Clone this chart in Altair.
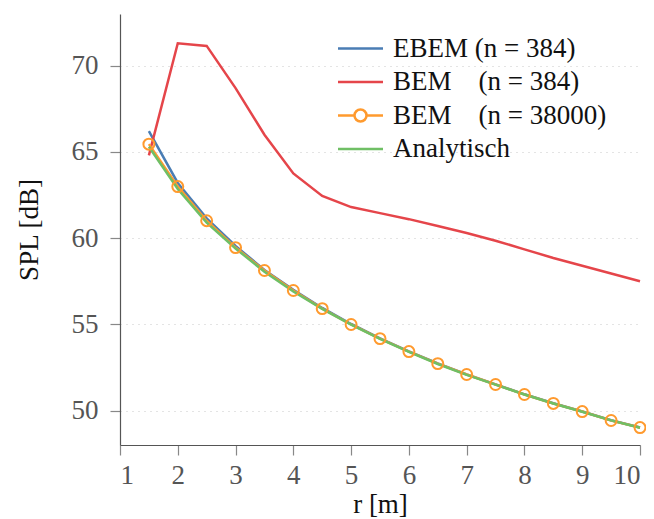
import altair as alt
import pandas as pd

r = [1.5, 2, 2.5, 3, 3.5, 4, 4.5, 5, 5.5, 6, 6.5, 7, 7.5, 8, 8.5, 9, 9.5, 10]
ebem = [66.2, 63.2, 61.15, 59.55, 58.15, 57.0, 55.95, 55.02, 54.18, 53.43, 52.73, 52.1, 51.52, 50.94, 50.42, 49.94, 49.44, 49.02]
bem384 = [64.8, 71.3, 71.15, 68.7, 66.0, 63.75, 62.45, 61.8, 61.45, 61.1, 60.7, 60.3, 59.85, 59.35, 58.85, 58.4, 57.95, 57.5]
bem38000 = [65.45, 62.99, 61.01, 59.45, 58.12, 56.96, 55.91, 54.99, 54.17, 53.42, 52.72, 52.09, 51.51, 50.93, 50.41, 49.94, 49.42, 49.01]
analytic = [65.3, 62.85, 60.9, 59.4, 58.05, 56.9, 55.9, 54.98, 54.15, 53.4, 52.7, 52.07, 51.5, 50.93, 50.41, 49.93, 49.43, 49.0]

NB = "\u00a0"
names = ["EBEM" + NB + "(n = 384)", "BEM" + NB * 4 + "(n = 384)", "BEM" + NB * 4 + "(n = 38000)", "Analytisch"]
colors = ["#4a7db4", "#e5454a", "#ff9a2e", "#6fbf65"]
line_sym = "M-1.5,0H1.5"
circ_sym = "M-1.5,0H-0.4M0.4,0H1.5M0.4,0A0.4,0.4,0,1,1,-0.4,0A0.4,0.4,0,1,1,0.4,0"
shapes = [line_sym, line_sym, circ_sym, line_sym]

rows = []
for name, vals in zip(names, [ebem, bem384, bem38000, analytic]):
    for x, y in zip(r, vals):
        rows.append({"r": x, "spl": y, "series": name})
df = pd.DataFrame(rows)

FONT = "Liberation Serif"

xenc = alt.X("r:Q", scale=alt.Scale(domain=[1, 10], nice=False, zero=False),
             axis=alt.Axis(title="r [m]", values=list(range(1, 11)), grid=False, format="d",
                           labelPadding=7, titlePadding=3))
yenc = alt.Y("spl:Q", scale=alt.Scale(domain=[48, 73], nice=False, zero=False),
             axis=alt.Axis(title="SPL [dB]", values=[50, 55, 60, 65, 70], grid=True,
                           gridDash=[1, 5], gridColor="#c8c8c8", labelPadding=12, titlePadding=28))
cscale = alt.Scale(domain=names, range=colors)
sscale = alt.Scale(domain=names, range=shapes)

def line_layer(name):
    return alt.Chart(df).transform_filter(alt.datum.series == name).mark_line(strokeWidth=2.5).encode(
        x=xenc, y=yenc, color=alt.Color("series:N", scale=cscale))

layers = [line_layer(names[0]), line_layer(names[1]), line_layer(names[2]), line_layer(names[3])]

pts = alt.Chart(df).transform_filter(alt.datum.series == names[2]).mark_point(
    shape="circle", filled=False, size=120, strokeWidth=2, opacity=1).encode(
    x=xenc, y=yenc, color=alt.Color("series:N", scale=cscale))

leg = alt.Legend(
    title=None, orient="none", legendX=224, legendY=18,
    symbolSize=900, symbolStrokeWidth=2.5, labelFont=FONT, labelFontSize=27,
    labelColor="#111", labelOffset=16, rowPadding=3.5, labelLimit=400,
    symbolFillColor="white", symbolOpacity=1)

legend_layer = alt.Chart(df).transform_filter(alt.datum.r < 0).mark_point(
    filled=False, strokeWidth=2.5, opacity=1).encode(
    x=xenc, y=yenc,
    color=alt.Color("series:N", scale=cscale, legend=leg),
    shape=alt.Shape("series:N", scale=sscale, legend=leg),
)

chart = alt.layer(*layers, pts, legend_layer).properties(
    width=520, height=431,
    padding={"left": 112, "top": 6, "right": 6, "bottom": 74},
    autosize=alt.AutoSizeParams(type="none"),
).configure_view(stroke=None).configure_axis(
    labelFont=FONT, titleFont=FONT, labelFontSize=27, titleFontSize=27,
    labelColor="#555", titleColor="#111", titleFontWeight="normal",
    domainColor="#555", domainWidth=1.2, tickColor="#888", tickSize=10, tickWidth=1.2,
)

chart.save("out.html", embed_options={"renderer": "svg", "actions": False})
